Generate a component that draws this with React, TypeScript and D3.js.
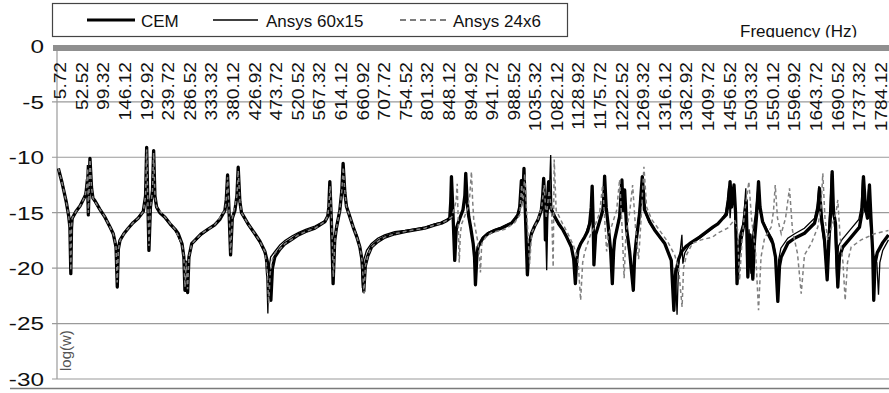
import React from "react";
import * as d3 from "d3";

// frequency labels on the category axis (Hz)
const freqLabels = [
  "5.72", "52.52", "99.32", "146.12", "192.92", "239.72", "286.52", "333.32", "380.12", "426.92",
  "473.72", "520.52", "567.32", "614.12", "660.92", "707.72", "754.52", "801.32", "848.12", "894.92",
  "941.72", "988.52", "1035.32", "1082.12", "1128.92", "1175.72", "1222.52", "1269.32", "1316.12", "1362.92",
  "1409.72", "1456.52", "1503.32", "1550.12", "1596.92", "1643.72", "1690.52", "1737.32", "1784.12",
];

const yTicks = [0, -5, -10, -15, -20, -25, -30];

// [frequency Hz, log(w)]
const cem: [number, number][] = [
  [0, -11.0], [8, -12.3], [17, -14.0], [22, -15.2], [25, -16.3], [27, -20.5], [28.5, -16.4], [30, -15.5],
  [38, -14.9], [47, -14.4], [58, -13.5], [60, -13.2], [63, -12.0], [65, -15.2], [66.5, -13.0], [68.5, -10.1],
  [72, -12.8], [75, -13.7], [79, -13.9], [90, -14.7], [101, -15.4], [112, -16.3], [119, -16.9], [125, -18.1],
  [127.7, -21.7], [130, -18.3], [133.5, -17.5], [142, -16.9], [151.5, -16.4], [162, -15.9], [173, -15.5],
  [184, -14.9], [189, -13.5], [191.4, -9.1], [193.7, -13.5], [196.3, -18.4], [199.6, -14.5], [204, -13.0],
  [206.5, -9.4], [209.3, -13.5], [213, -14.5], [220, -15.0], [231, -15.4], [242, -16.0], [253, -16.5],
  [260, -16.9], [268, -17.8], [272, -19.0], [274.3, -22.0], [277, -19.5], [280.2, -22.2], [283, -19.0],
  [289, -17.8], [298, -17.4], [310, -16.9], [324, -16.5], [339, -16.1], [350, -15.6], [361, -14.8],
  [364, -13.8], [366.8, -11.6], [369.6, -14.5], [373.3, -18.8], [377, -15.5], [382.6, -14.8], [387, -13.5],
  [389.8, -10.9], [393.4, -14.0], [397, -15.0], [411, -16.0], [426, -16.9], [437, -17.6], [447.6, -18.5],
  [454, -19.6], [458, -20.5], [460.6, -22.9], [464, -20.0], [469, -19.0], [480, -18.3], [491, -17.8],
  [506, -17.4], [520, -17.0], [536, -16.7], [556, -16.4], [567, -16.1], [578, -15.8], [584, -15.3],
  [586.2, -14.5], [588.4, -12.2], [591.6, -15.5], [595.5, -21.4], [599, -17.5], [603, -16.3], [610, -14.8],
  [614.4, -13.0], [617.2, -10.55], [621, -13.2], [624.5, -14.45], [632, -15.4], [639, -16.3], [647, -17.2],
  [653.4, -18.1], [658.3, -19.3], [662, -22.1], [665.3, -19.8], [670.7, -18.9], [678.7, -18.1], [692, -17.6],
  [707.5, -17.2], [729, -16.9], [751, -16.7], [772.5, -16.55], [794, -16.4], [816, -16.1], [830, -15.95],
  [842, -15.7], [848.3, -15.5], [850.5, -14.0], [852, -11.75], [854.8, -14.5], [859.1, -19.3], [862.4, -16.5],
  [866.3, -15.95], [872, -15.3], [877, -14.75], [881, -13.5], [883, -11.45], [886, -14.0], [889.5, -15.35],
  [894, -16.4], [899, -17.75], [902, -19.0], [904, -21.5], [907, -19.0], [909.6, -18.1], [920, -17.3],
  [931, -16.9], [946, -16.6], [960, -16.4], [982, -15.95], [991, -15.5], [996, -15.2], [1000, -14.5],
  [1003.6, -12.1], [1006.4, -14.0], [1009.2, -11.0], [1011.8, -14.5], [1016.6, -20.6], [1020.5, -17.8],
  [1025.3, -16.9], [1032.4, -16.2], [1039.6, -15.65], [1046.9, -14.75], [1049.7, -13.5], [1051.9, -11.9],
  [1054.1, -14.0], [1055.6, -17.45], [1058.4, -15.0], [1062.7, -12.2], [1066, -14.5], [1075.7, -15.35],
  [1084.4, -16.0], [1093.7, -16.55], [1101.7, -17.2], [1112, -18.1], [1117, -19.2], [1120.6, -21.4],
  [1123.4, -19.3], [1126.2, -18.4], [1132, -17.8], [1140.7, -17.2], [1147, -16.7], [1151.5, -16.0],
  [1155, -14.5], [1157, -12.6], [1159, -15.5], [1160.8, -19.7], [1164.5, -17.0], [1169.5, -16.3],
  [1180.3, -14.75], [1182.5, -13.5], [1184, -11.7], [1187.3, -14.5], [1191.2, -15.95], [1197, -18.4],
  [1200.7, -21.4], [1203.5, -18.5], [1205.7, -17.45], [1216.5, -15.35], [1221.5, -12.05], [1224.1, -14.8],
  [1227.4, -12.95], [1231.7, -16.5], [1238.2, -18.5], [1246.2, -22.0], [1249, -19.0], [1252.7, -17.45],
  [1259.8, -15.05], [1265.7, -11.75], [1270.7, -14.75], [1281.5, -15.8], [1292.3, -16.55], [1314, -17.75],
  [1328.5, -19.3], [1334.1, -23.8], [1337.8, -20.5], [1344.3, -19.2], [1350.8, -18.5], [1361.6, -18.0],
  [1368.1, -17.8], [1389.8, -17.2], [1418.6, -16.3], [1429.4, -16.0], [1440.3, -15.5], [1447.6, -15.2],
  [1452.6, -14.0], [1455.9, -12.2], [1459.1, -14.5], [1461.3, -13.5], [1464.5, -12.5], [1467.8, -15.0],
  [1471, -21.4], [1474.3, -19.0], [1478.6, -17.6], [1485.1, -16.2], [1490.9, -13.9], [1494.4, -20.8],
  [1499.2, -17.0], [1505.2, -21.0], [1508.9, -17.5], [1513.3, -15.3], [1517.6, -12.2], [1520.8, -14.5],
  [1526.3, -15.8], [1537.1, -16.8], [1548.5, -17.75], [1554.4, -19.0], [1559.4, -23.0], [1563.1, -19.8],
  [1566.8, -19.0], [1581.1, -17.75], [1595.6, -17.3], [1617.2, -16.85], [1638.9, -15.95], [1646, -14.75],
  [1649.7, -12.8], [1654.1, -15.5], [1660.6, -17.5], [1666.4, -21.05], [1670.3, -17.5], [1674.6, -14.5],
  [1677.2, -11.3], [1680, -14.8], [1684.4, -16.0], [1689.4, -21.7], [1693, -19.0], [1700.2, -18.1],
  [1718.4, -17.2], [1736.4, -16.3], [1741.8, -15.0], [1745, -11.75], [1749.4, -14.5], [1753.7, -15.5],
  [1758, -12.5], [1761.3, -15.5], [1765, -18.5], [1767.3, -22.9], [1770, -19.6], [1775, -18.6],
  [1786.8, -17.7], [1799.2, -17.0],
];

const ansys60x15: [number, number][] = [
  [0, -11.1], [8, -12.4], [17, -14.1], [22, -15.3], [25, -16.2], [26.5, -20.3], [28, -16.5], [30, -15.6],
  [38, -15.0], [47, -14.4], [58, -13.4], [61, -12.5], [63, -10.7], [64.5, -14.8], [66.5, -13.2], [68.5, -10.3],
  [72, -12.9], [75, -13.8], [90, -14.8], [101, -15.5], [112, -16.4], [119, -17.0], [125, -18.2], [127, -21.5],
  [130, -18.1], [134, -17.4], [142, -16.8], [152, -16.4], [162, -15.9], [173, -15.4], [184, -14.8],
  [189, -13.3], [191, -9.3], [193.5, -13.6], [196, -18.2], [199.5, -14.4], [204, -13.1], [206.3, -9.6],
  [209, -13.6], [213, -14.6], [231, -15.5], [253, -16.6], [268, -17.9], [272, -19.2], [274, -21.8],
  [276, -19.3], [280, -22.0], [283, -19.1], [289, -17.9], [310, -17.0], [339, -16.1], [361, -14.9],
  [364, -13.9], [366.5, -11.8], [369.5, -14.6], [373, -18.6], [377, -15.6], [387, -13.6], [389.5, -11.1],
  [393, -14.1], [397, -15.1], [411, -16.1], [426, -17.0], [437, -17.7], [448, -18.7], [452, -21.0],
  [454.1, -24.1], [456, -20.2], [460, -19.0], [469, -18.5], [480, -17.9], [491, -17.5], [506, -17.1],
  [520, -16.8], [536, -16.5], [556, -16.2], [578, -15.7], [584, -15.2], [586, -14.4], [588, -12.4],
  [591, -15.4], [595, -21.2], [599, -17.3], [603, -16.1], [610, -14.6], [614, -12.9], [617, -10.7],
  [621, -13.3], [624.5, -14.5], [632, -15.3], [639, -16.2], [647, -17.0], [653, -17.9], [656.5, -19.2],
  [659, -21.8], [662, -19.2], [668, -18.4], [678, -17.8], [692, -17.3], [707, -17.0], [729, -16.7],
  [751, -16.6], [772, -16.45], [794, -16.3], [816, -16.0], [830, -15.85], [842, -15.6], [848, -15.4],
  [850, -13.9], [851.5, -11.9], [854.5, -14.6], [858.5, -19.0], [862, -16.4], [866, -15.9], [872, -15.2],
  [877, -14.7], [880.5, -13.4], [882.5, -11.6], [885.5, -14.1], [889, -15.4], [894, -16.5], [899, -17.8],
  [902, -19.2], [903.5, -21.3], [906.5, -18.8], [910, -18.0], [920, -17.2], [931, -16.8], [946, -16.5],
  [960, -16.3], [982, -15.9], [996, -15.1], [1000, -14.3], [1003, -12.0], [1006, -14.1], [1009, -11.1],
  [1011.5, -14.6], [1016, -20.4], [1020, -17.7], [1025, -16.8], [1040, -15.6], [1047, -14.7], [1049.5, -13.4],
  [1051.5, -12.0], [1054, -14.2], [1056, -16.0], [1058.4, -20.2], [1061, -15.2], [1064, -13.5], [1067.1, -9.8],
  [1069.5, -14.6], [1076, -15.4], [1084, -16.1], [1094, -16.6], [1102, -17.3], [1112, -18.2], [1117, -19.4],
  [1120, -21.2], [1123, -19.1], [1126, -18.3], [1132, -17.7], [1141, -17.1], [1151, -15.9], [1155, -14.4],
  [1156.5, -12.8], [1158.5, -15.4], [1160.5, -19.5], [1164, -16.9], [1169, -16.2], [1180, -14.6],
  [1183.5, -11.9], [1187, -14.6], [1191, -16.0], [1197, -18.5], [1200, -21.0], [1203, -18.4], [1205.5, -17.4],
  [1216, -15.2], [1221, -12.2], [1224, -14.9], [1227, -13.1], [1231, -16.4], [1238, -18.4], [1245.5, -21.7],
  [1248.5, -18.9], [1252, -17.3], [1259, -14.9], [1265, -11.9], [1270, -14.8], [1281, -15.9], [1292, -16.6],
  [1314, -17.8], [1328, -19.2], [1333, -21.5], [1337, -20.0], [1341, -24.2], [1344, -20.0], [1351.5, -17.0],
  [1353.6, -19.6], [1358, -18.6], [1368, -17.9], [1390, -17.3], [1418, -16.4], [1435, -15.8], [1446, -15.0],
  [1450, -13.8], [1453, -12.6], [1456, -15.5], [1460, -13.0], [1464, -12.8], [1467, -15.5], [1469.5, -20.6],
  [1473, -18.0], [1478, -16.8], [1485, -15.8], [1490, -12.8], [1493, -19.5], [1497, -16.5], [1501, -20.5],
  [1505, -17.0], [1511, -15.0], [1516, -12.9], [1519, -14.6], [1525, -15.6], [1536, -16.5], [1548, -17.4],
  [1554, -18.6], [1558, -22.5], [1561, -19.3], [1566, -18.2], [1581, -17.3], [1596, -16.9], [1617, -16.4],
  [1639, -15.5], [1645, -14.3], [1648.5, -12.6], [1653, -15.8], [1660, -17.8], [1665, -20.3], [1669, -16.8],
  [1673, -14.2], [1675.5, -11.5], [1679, -15.0], [1683, -16.5], [1687, -21.0], [1691, -18.0], [1699, -17.4],
  [1717, -16.5], [1735, -15.6], [1740, -14.5], [1743, -12.0], [1747, -14.8], [1752, -15.2], [1756, -12.9],
  [1759.5, -15.8], [1764, -18.2], [1768, -18.9], [1774, -19.5], [1777.6, -22.4], [1780.5, -19.5],
  [1786.8, -18.4], [1799.2, -17.45],
];

const ansys24x6: [number, number][] = [
  [0, -11.0], [8, -12.3], [17, -14.0], [22, -15.2], [25, -16.4], [27, -20.2], [28.5, -16.4], [30, -15.5],
  [38, -14.9], [47, -14.4], [58, -13.5], [61, -12.8], [63.5, -11.0], [65, -15.0], [67, -12.5], [68.5, -10.2],
  [72, -12.8], [75, -13.7], [90, -14.7], [101, -15.4], [112, -16.3], [119, -16.9], [125, -18.1],
  [127.5, -21.3], [130, -18.3], [133.5, -17.5], [142, -16.9], [151.5, -16.4], [162, -15.9], [173, -15.5],
  [184, -14.9], [189, -13.5], [191.4, -9.3], [193.7, -13.5], [196.3, -18.0], [199.6, -14.5], [204, -13.0],
  [206.5, -9.6], [209.3, -13.5], [213, -14.5], [231, -15.4], [253, -16.5], [268, -17.8], [272, -19.0],
  [274.5, -21.7], [277, -19.5], [280, -21.9], [283, -19.0], [289, -17.8], [310, -16.9], [339, -16.1],
  [361, -14.8], [364, -13.8], [366.8, -11.8], [369.6, -14.5], [373.3, -18.6], [377, -15.5], [387, -13.5],
  [389.8, -11.2], [393.4, -14.0], [397, -15.0], [411, -16.0], [426, -16.9], [437, -17.6], [447.6, -18.5],
  [453, -20.5], [456, -23.2], [459, -20.5], [464, -19.2], [470, -18.6], [480, -18.3], [491, -17.8],
  [506, -17.4], [520, -17.0], [536, -16.7], [556, -16.4], [578, -15.8], [584, -15.3], [586.5, -14.3],
  [589, -12.6], [592, -15.4], [596, -20.8], [599.5, -17.3], [603, -16.3], [610, -14.8], [614.4, -13.0],
  [617.5, -10.9], [621, -13.2], [624.5, -14.45], [632, -15.4], [639, -16.3], [647, -17.2], [653.4, -18.1],
  [658.3, -19.3], [662.5, -22.3], [665.5, -19.8], [670.7, -18.9], [678.7, -18.1], [692, -17.6],
  [707.5, -17.2], [729, -16.9], [751, -16.7], [772.5, -16.55], [794, -16.4], [816, -16.1], [830, -15.95],
  [842, -15.7], [852.6, -15.4], [862, -14.0], [864.5, -12.4], [866.5, -15.5], [868.9, -19.5], [871.5, -16.8],
  [874.3, -16.0], [887.3, -14.6], [891.6, -13.5], [895.3, -11.3], [898, -14.0], [900.3, -15.6], [909, -17.6],
  [912.5, -18.8], [914.8, -20.4], [917.6, -17.8], [926.3, -17.2], [938.6, -16.8], [967.4, -16.5],
  [989, -15.9], [1000, -15.2], [1004.3, -12.5], [1007, -14.5], [1010.8, -11.5], [1015.1, -15.0],
  [1021.6, -19.6], [1025.9, -16.8], [1038.9, -15.7], [1047.6, -14.5], [1053, -12.5], [1057.3, -15.5],
  [1063.8, -13.0], [1069.2, -15.0], [1072.5, -19.9], [1074.7, -10.2], [1079, -14.8], [1093.1, -16.0],
  [1104.6, -16.9], [1116.9, -18.0], [1126.2, -19.2], [1132, -22.9], [1136.4, -19.5], [1140.7, -18.6],
  [1151.5, -17.2], [1164.5, -16.0], [1173.2, -15.0], [1179.7, -12.5], [1184, -15.5], [1188.4, -18.5],
  [1192, -17.0], [1199.2, -16.2], [1210, -14.8], [1216.5, -12.0], [1220.9, -15.5], [1226.3, -20.9],
  [1229.5, -17.5], [1231.7, -16.5], [1238.2, -15.0], [1244.7, -12.5], [1251.2, -16.5], [1257.7, -19.2],
  [1263.1, -15.5], [1269.2, -10.85], [1275, -14.5], [1285.8, -15.6], [1303.2, -16.6], [1320.5, -17.6],
  [1335.7, -18.8], [1344.3, -20.0], [1351.9, -23.5], [1355.1, -20.0], [1361.6, -18.8], [1374.6, -17.75],
  [1393.5, -17.45], [1418, -17.2], [1428.8, -16.85], [1450.4, -16.4], [1465.6, -15.65], [1472.1, -16.5],
  [1476.4, -21.1], [1481.9, -17.5], [1487.3, -15.0], [1496.6, -12.2], [1502.4, -15.5], [1511.1, -18.5],
  [1517.6, -23.8], [1523, -19.0], [1530.6, -17.3], [1545.1, -16.3], [1550.1, -14.8], [1553.8, -12.5],
  [1558.7, -15.5], [1566.8, -16.9], [1576.1, -15.5], [1584.7, -12.8], [1591.2, -16.6], [1602.1, -18.7],
  [1610.1, -22.3], [1617.2, -18.8], [1631.7, -17.8], [1646, -16.3], [1653, -14.5], [1656.9, -11.45],
  [1661.6, -15.5], [1667.7, -17.45], [1677.9, -16.0], [1685.5, -15.0], [1689.4, -13.85], [1694.1, -17.0],
  [1700.6, -19.5], [1705.4, -22.9], [1710.4, -19.5], [1718.4, -18.1], [1740, -17.45], [1768.9, -16.9],
  [1799.2, -16.6],
];

const W = 889;
const H = 393;
const FONT = "'Liberation Sans', Arial, sans-serif";

const App = () => {
  const x = d3.scaleLinear().domain([5.72, 1784.12]).range([61, 881.5]);
  const y = d3.scaleLinear().domain([-30, 0]).range([379, 46.4]);
  const plotLeft = 57;
  const plotRight = W;

  const line = d3
    .line<[number, number]>()
    .x((d) => x(d[0]))
    .y((d) => y(d[1]));

  return (
    <svg
      width={W}
      height={H}
      style={{ position: "absolute", left: 0, top: 0, background: "#fff" }}
      fontFamily={FONT}
    >
      <defs>
        <clipPath id="titleClip">
          <rect x={0} y={0} width={W} height={37.5} />
        </clipPath>
        <clipPath id="plotClip">
          <rect x={plotLeft} y={40} width={plotRight - plotLeft} height={345} />
        </clipPath>
      </defs>

      {/* horizontal grid */}
      {yTicks
        .filter((t) => t !== 0)
        .map((t) => (
          <line key={t} x1={52} x2={plotRight} y1={y(t)} y2={y(t)} stroke="#9a9a9a" strokeWidth={1.2} />
        ))}
      {/* vertical axis */}
      <line x1={plotLeft} x2={plotLeft} y1={y(0)} y2={y(-30)} stroke="#9a9a9a" strokeWidth={1.2} />
      {/* thick category axis at 0 */}
      <rect x={53} y={y(0) - 1.4} width={plotRight - 53} height={6} fill="#8f8f8f" />
      {/* bottom border */}
      <line x1={10} x2={W} y1={388.5} y2={388.5} stroke="#7a7a7a" strokeWidth={1.5} />

      {/* y tick labels */}
      {yTicks.map((t) => (
        <g key={t} transform={`translate(44,${y(t)}) scale(1.28,1)`}>
          <text textAnchor="end" dy="0.36em" fontSize={19} fill="#111">
            {t}
          </text>
        </g>
      ))}

      {/* frequency labels */}
      {freqLabels.map((l) => (
        <g key={l} transform={`translate(${x(+l)},62) rotate(-90) scale(1.16,1)`}>
          <text textAnchor="end" dy="0.32em" fontSize={16.5} fill="#111">
            {l}
          </text>
        </g>
      ))}

      <text transform={`translate(71,371) rotate(-90)`} fontSize={15} fill="#555">
        log(w)
      </text>

      <text x={740} y={36.5} fontSize={17} fill="#111" clipPath="url(#titleClip)">
        Frequency (Hz)
      </text>

      {/* series */}
      <g clipPath="url(#plotClip)" fill="none">
        <path d={line(cem) ?? ""} stroke="#000" strokeWidth={3.3} strokeLinejoin="round" />
        <path d={line(ansys60x15) ?? ""} stroke="#000" strokeWidth={1.3} />
        <path d={line(ansys24x6) ?? ""} stroke="#808080" strokeWidth={1.5} strokeDasharray="4,3" />
      </g>

      {/* legend */}
      <rect x={52.5} y={3.5} width={515} height={33} fill="#fff" stroke="#444" strokeWidth={1.2} />
      <line x1={87} x2={135} y1={20} y2={20} stroke="#000" strokeWidth={3} />
      <text x={141} y={26.5} fontSize={17} fill="#111">CEM</text>
      <line x1={213} x2={258} y1={20} y2={20} stroke="#000" strokeWidth={1.5} />
      <text x={266} y={26.5} fontSize={17} fill="#111">Ansys 60x15</text>
      <line x1={400} x2={446} y1={20} y2={20} stroke="#7d7d7d" strokeWidth={1.8} strokeDasharray="6,4" />
      <text x={453} y={26.5} fontSize={17} fill="#111">Ansys 24x6</text>
    </svg>
  );
};

export default App;
